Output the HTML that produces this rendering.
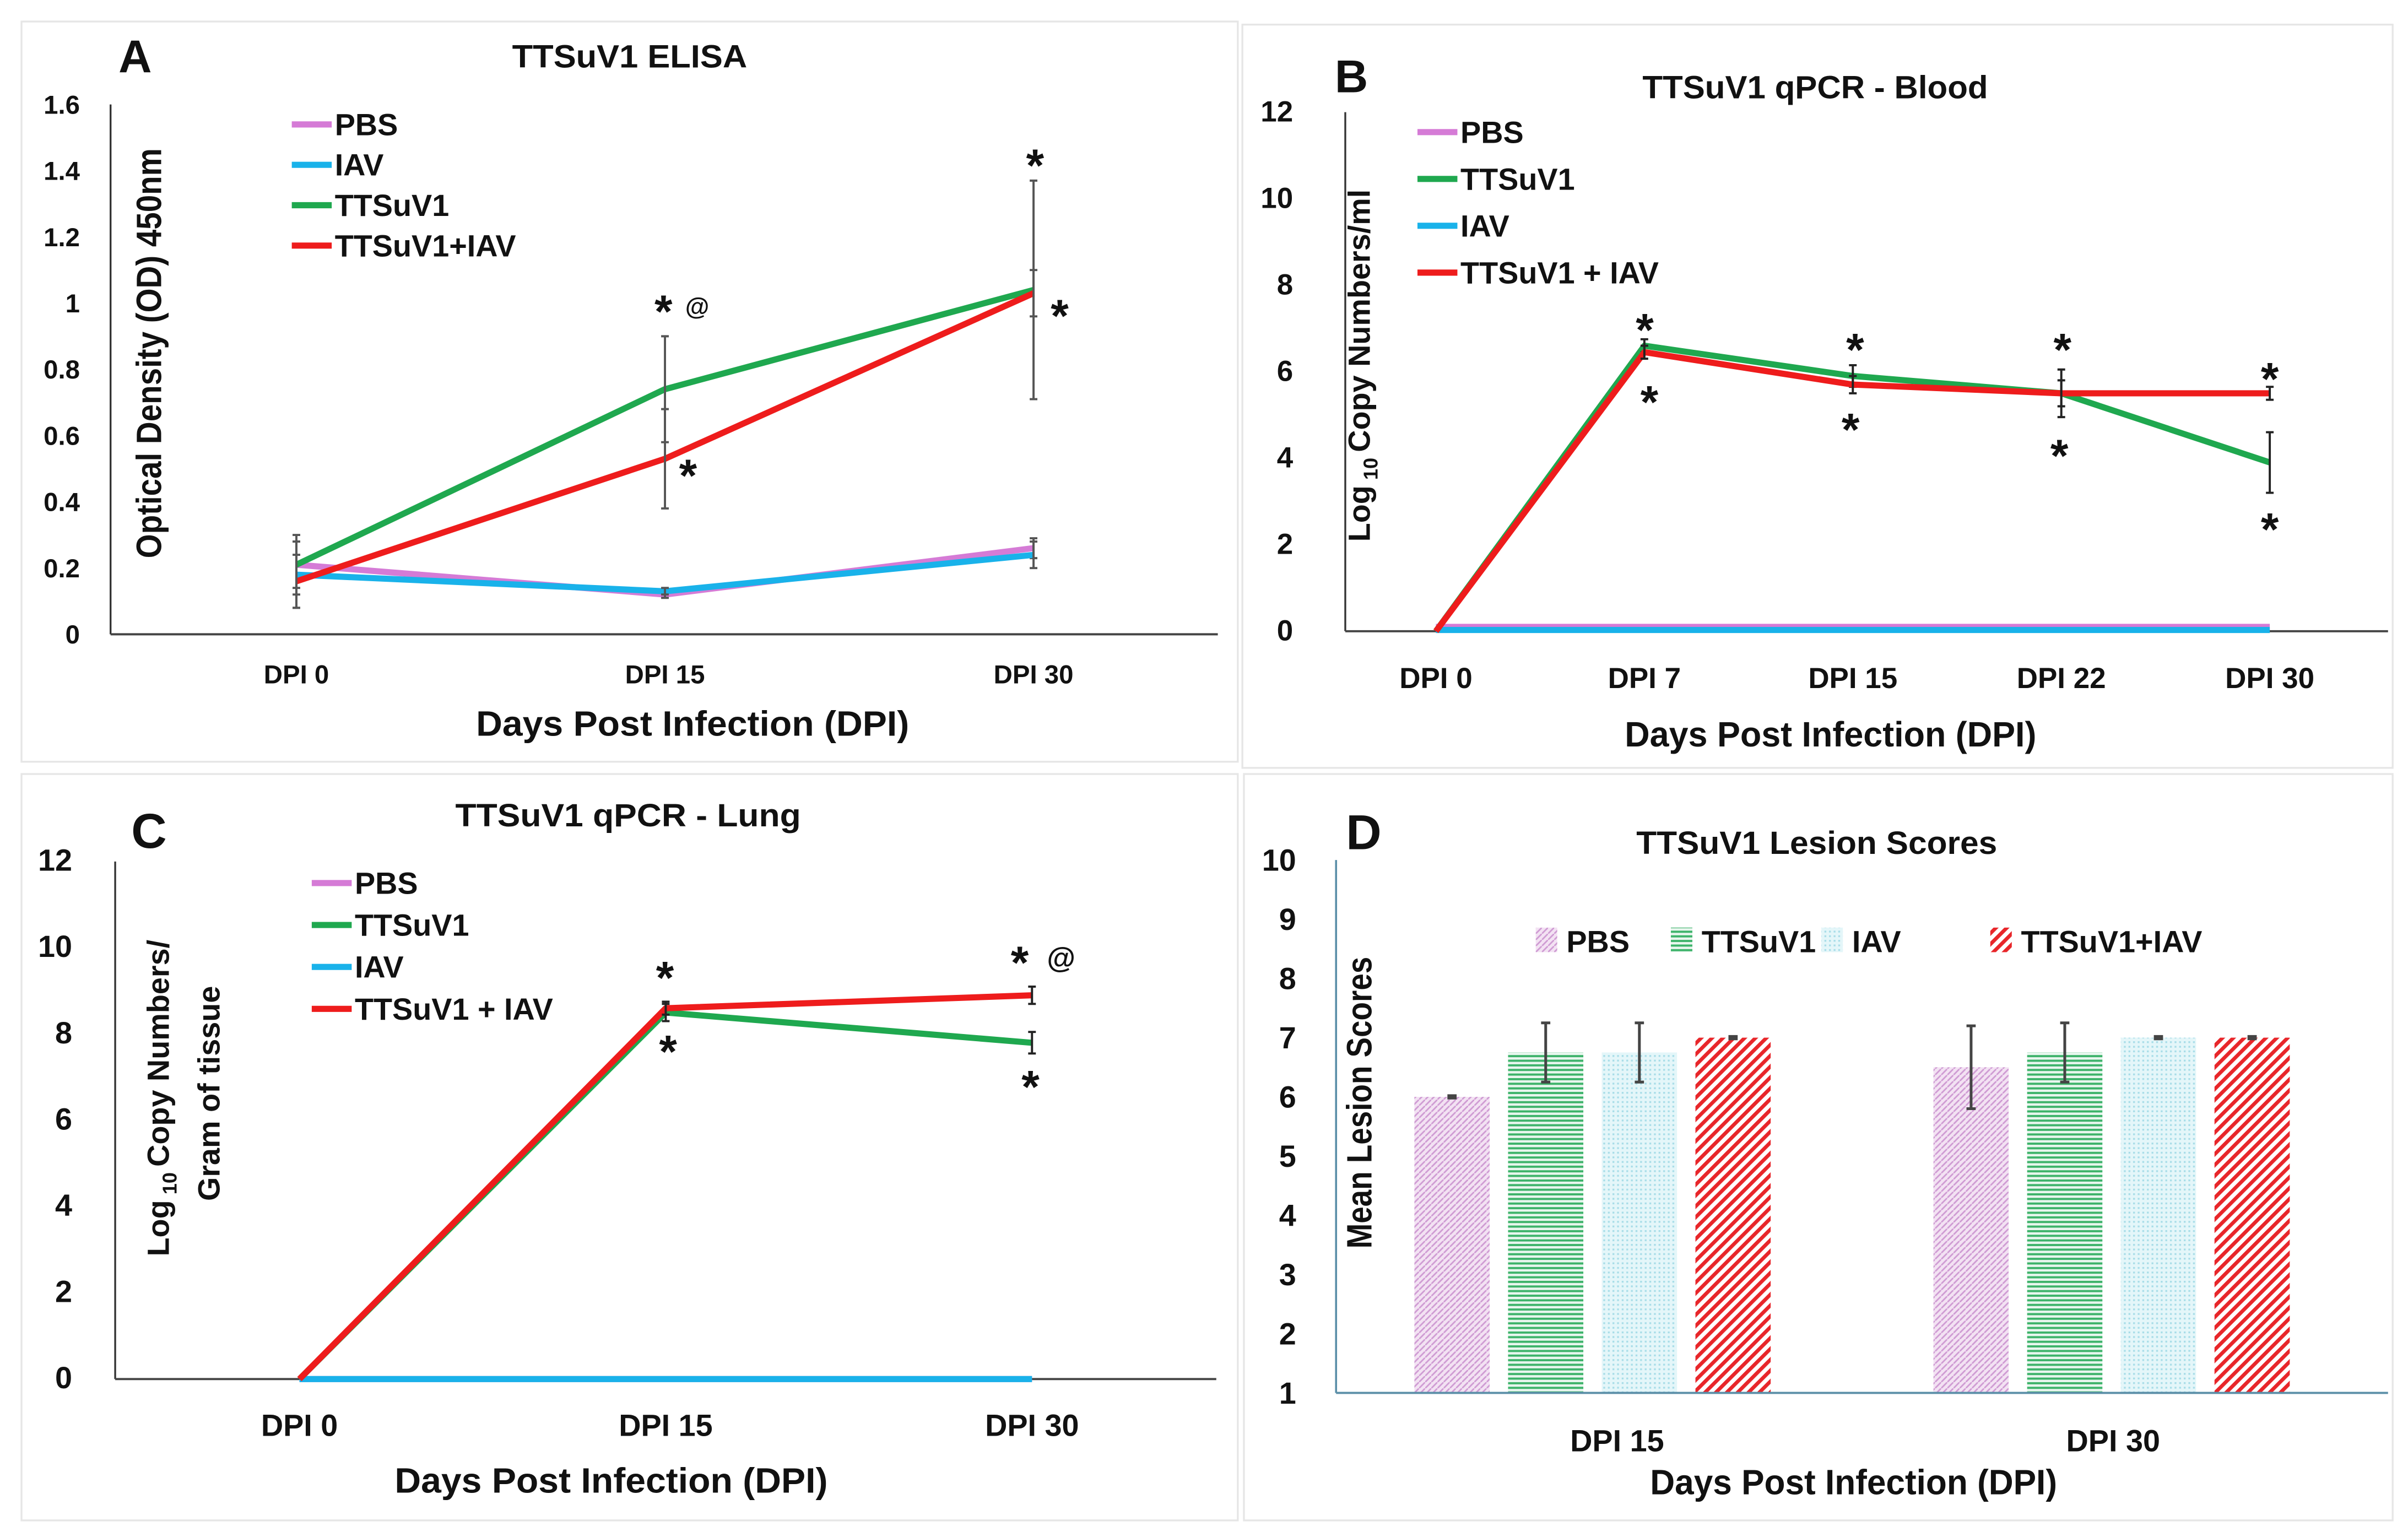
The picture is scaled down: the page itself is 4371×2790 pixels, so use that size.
<!DOCTYPE html>
<html><head><meta charset="utf-8"><style>
html,body{margin:0;padding:0;background:#fff}
svg{display:block}
text{font-family:"Liberation Sans Narrow","Liberation Sans",sans-serif;font-weight:bold;fill:#111}
</style></head><body>
<svg id="fig" xmlns="http://www.w3.org/2000/svg" width="4371" height="2790" viewBox="0 0 1568 1000.8">
<defs>
<pattern id="pPBS" width="4" height="4" patternUnits="userSpaceOnUse"><rect width="4" height="4" fill="#f3e2f3"/><path d="M0 4L4 0" stroke="#cf9bd3" stroke-width="1"/></pattern>
<pattern id="pTT" width="4" height="3" patternUnits="userSpaceOnUse"><rect width="4" height="3" fill="#e8f6ee"/><rect y="0" width="4" height="1.4" fill="#3db36a"/></pattern>
<pattern id="pIAV" width="3" height="3" patternUnits="userSpaceOnUse"><rect width="3" height="3" fill="#e4f6f9"/><rect width="1.2" height="1.2" fill="#a8dde8"/></pattern>
<pattern id="pRED" width="5" height="5" patternUnits="userSpaceOnUse" patternTransform="rotate(45)"><rect width="5" height="5" fill="#fff"/><rect width="2.4" height="5" fill="#e8262a"/></pattern>
</defs>
<g id="root"></g>
</svg>
<script>
// ===== Panel A data =====
const catsA = ["DPI 0","DPI 15","DPI 30"];
const ticksA = [0,0.2,0.4,0.6,0.8,1,1.2,1.4,1.6];
const tickLabelsA = ["0","0.2","0.4","0.6","0.8","1","1.2","1.4","1.6"];
const aPBS = [0.21,0.12,0.26];
const aIAV = [0.18,0.13,0.24];
const aTT = [0.21,0.74,1.04];
const aTTIAV = [0.16,0.53,1.03];
const aErrPBS = [0.09,0.01,0.03];
const aErrIAV = [0.1,0.01,0.04];
const aErrTT = [0.07,0.16,0.33];
const aErrTTIAV = [0.08,0.15,0.07];
// ===== Panel B data =====
const catsB = ["DPI 0","DPI 7","DPI 15","DPI 22","DPI 30"];
const ticksB = [0,2,4,6,8,10,12];
const bPBS = [0.1,0.1,0.1,0.1,0.1];
const bTT = [0,6.6,5.9,5.5,3.9];
const bIAV = [0.03,0.03,0.03,0.03,0.03];
const bTTIAV = [0,6.45,5.7,5.5,5.5];
const bErrTT = [0,0.15,0.25,0.55,0.7];
const bErrTTIAV = [0,0.15,0.2,0.3,0.15];
// ===== Panel C data =====
const catsC = ["DPI 0","DPI 15","DPI 30"];
const ticksC = [0,2,4,6,8,10,12];
const cPBS = [0,0,0];
const cTT = [0,8.5,7.8];
const cIAV = [0,0,0];
const cTTIAV = [0,8.6,8.9];
const cErrTT = [0,0.2,0.25];
const cErrTTIAV = [0,0.15,0.2];
// ===== Panel D data =====
const catsD = ["DPI 15","DPI 30"];
const ticksD = [1,2,3,4,5,6,7,8,9,10];
const seriesD = ["PBS","TTSuV1","IAV","TTSuV1+IAV"];
const dPBS = [6,6.5];
const dTT = [6.75,6.75];
const dIAV = [6.75,7];
const dTTIAV = [7,7];
const dErrPBS = [0.02,0.7];
const dErrTT = [0.5,0.5];
const dErrIAV = [0.5,0.02];
const dErrTTIAV = [0.02,0.02];

const NS="http://www.w3.org/2000/svg";
const root=document.getElementById('root');
function mk(tag,attrs,parent,txt){const e=document.createElementNS(NS,tag);for(const k in attrs)e.setAttribute(k,attrs[k]);if(txt!==undefined)e.textContent=txt;(parent||root).appendChild(e);return e;}
const C={pbs:"#d57bd6",iav:"#19b2ea",tt:"#1fa84f",red:"#ee1c1c"};

function frame(x,y,w,h,name){const r=mk('rect',{x:x,y:y,width:w,height:h,fill:'#fff',stroke:'#e6e6e6','stroke-width':1.2});}
function txt(x,y,s,size,name,anchor,extra){const t=mk('text',Object.assign({x:x,y:y,'font-size':size,'text-anchor':anchor||'middle'},extra||{}),root,s);return t;}
const fit=len=>({textLength:len,lengthAdjust:'spacingAndGlyphs'});

function linePanel(p){
  const g=mk('g',{});
  const ys=v=>p.y0-(v-p.ymin)/(p.ymax-p.ymin)*(p.y0-p.y1);
  const xs=i=>p.cx[0]+i*(p.cx[1]-p.cx[0]);
  const ya=mk('line',{x1:p.ax,y1:p.y1,x2:p.ax,y2:p.y0,stroke:'#333','stroke-width':1.2},g);
  const xa=mk('line',{x1:p.ax,y1:p.y0,x2:p.axEnd,y2:p.y0,stroke:'#444','stroke-width':1.4},g);
  p.ticks.forEach((t,i)=>{const e=mk('text',{x:p.tickX,y:ys(t)+6,'font-size':p.tickSize||17,'text-anchor':'end'},g,p.tickLabels?p.tickLabels[i]:String(t));});
  p.cats.forEach((c,i)=>{const e=mk('text',{x:xs(i),y:p.catY,'font-size':p.catSize||17,'text-anchor':'middle'},g,c);});
  p.series.forEach(s=>{
    const pts=s.vals.map((v,i)=>xs(i).toFixed(1)+','+ys(v).toFixed(1)).join(' ');
    const l=mk('polyline',{points:pts,fill:'none',stroke:s.color,'stroke-width':p.lw||4,'stroke-linejoin':'round'},g);
    
    if(s.err){s.err.forEach((e,i)=>{if(!e)return;const x=xs(i),a=ys(s.vals[i]+e),b=ys(s.vals[i]-e);
      const eb=mk('path',{d:`M${x} ${a}V${b}M${x-2.5} ${a}H${x+2.5}M${x-2.5} ${b}H${x+2.5}`,stroke:p.errColor||'#555','stroke-width':1.4,fill:'none'},g);
      });}
  });
  p.legend.forEach((L,i)=>{const y=p.legY+i*p.legDy;
    const ln=mk('line',{x1:p.legX,y1:y,x2:p.legX+26,y2:y,stroke:L.color,'stroke-width':4},g);
    const t=mk('text',{x:p.legX+28,y:y+7,'font-size':20,'text-anchor':'start'},g,L.label);});
  (p.marks||[]).forEach(m=>{const t=mk('text',{x:m[0],y:m[1],'font-size':m[3]||30,'text-anchor':'middle'},g,m[2]);});
}

frame(14,14,792,482,'panel-a-frame');
frame(809,16,749,484,'panel-b-frame');
frame(14,504,792,486,'panel-c-frame');
frame(810,504,748,486,'panel-d-frame');

// Panel A
txt(88,47,'A',30,'panel-a-letter');
txt(410,44,'TTSuV1 ELISA',21,'panel-a-title','middle',fit(153));
txt(451,479,'Days Post Infection (DPI)',23,'panel-a-x-axis-title','middle',fit(282));
txt(0,0,'Optical Density (OD) 450nm',23,'panel-a-y-axis-title','middle',Object.assign({transform:'translate(105,230) rotate(-90)'},fit(267)));
linePanel({id:'panel-a',ax:72,axEnd:793,y0:413,y1:68,ymin:0,ymax:1.6,cx:[193,433],tickX:52,catY:445,cats:catsA,ticks:ticksA,tickLabels:tickLabelsA,lw:4,
 series:[{key:'pbs',vals:aPBS,color:C.pbs,err:aErrPBS},{key:'iav',vals:aIAV,color:C.iav,err:aErrIAV},{key:'tt',vals:aTT,color:C.tt,err:aErrTT},{key:'tt-iav',vals:aTTIAV,color:C.red,err:aErrTTIAV}],
 legend:[{key:'pbs',label:'PBS',color:C.pbs},{key:'iav',label:'IAV',color:C.iav},{key:'tt',label:'TTSuV1',color:C.tt},{key:'tt-iav',label:'TTSuV1+IAV',color:C.red}],
 legX:190,legY:81,legDy:26.3,
 marks:[[432,213,'*'],[454,205,'@',16],[448,320,'*'],[674,118,'*'],[690,216,'*']]});

// Panel B
txt(880,60,'B',30,'panel-b-letter');
txt(1182,64,'TTSuV1 qPCR - Blood',21,'panel-b-title','middle',fit(225));
txt(1192,486,'Days Post Infection (DPI)',23,'panel-b-x-axis-title','middle',fit(268));
(function(){const t=txt(0,0,'Log',20,'panel-b-y-axis-title','middle',{transform:'translate(892,238) rotate(-90)'});
 mk('tspan',{'font-size':13,dy:5},t,' 10 ');mk('tspan',{dy:-5},t,'Copy Numbers/ml');})();
linePanel({id:'panel-b',ax:876,axEnd:1555,y0:411,y1:73,ymin:0,ymax:12,cx:[935,1070.75],tickX:842,catY:448,cats:catsB,ticks:ticksB,lw:4,tickSize:19,catSize:19,errColor:'#222',
 series:[{key:'pbs',vals:bPBS,color:C.pbs},{key:'iav',vals:bIAV,color:C.iav},{key:'tt',vals:bTT,color:C.tt,err:bErrTT},{key:'tt-iav',vals:bTTIAV,color:C.red,err:bErrTTIAV}],
 legend:[{key:'pbs',label:'PBS',color:C.pbs},{key:'tt',label:'TTSuV1',color:C.tt},{key:'iav',label:'IAV',color:C.iav},{key:'tt-iav',label:'TTSuV1 + IAV',color:C.red}],
 legX:923,legY:86,legDy:30.5,
 marks:[[1071,225,'*'],[1074,272,'*'],[1208,238,'*'],[1205,290,'*'],[1343,238,'*'],[1341,307,'*'],[1478,257,'*'],[1478,355,'*']]});

// Panel C
txt(97,552,'C',32,'panel-c-letter');
txt(409,538,'TTSuV1 qPCR - Lung',21,'panel-c-title','middle',fit(225));
txt(398,972,'Days Post Infection (DPI)',23,'panel-c-x-axis-title','middle',fit(282));
(function(){const t=txt(0,0,'Log',20,'panel-c-y-axis-title-line1','middle',{transform:'translate(110,715) rotate(-90)'});
 mk('tspan',{'font-size':13,dy:5},t,' 10 ');mk('tspan',{dy:-5},t,'Copy Numbers/');
 txt(0,0,'Gram of tissue',20,'panel-c-y-axis-title-line2','middle',{transform:'translate(143,712) rotate(-90)'});})();
linePanel({id:'panel-c',ax:75,axEnd:792,y0:898,y1:561,ymin:0,ymax:12,cx:[195,433.5],tickX:47,catY:935,cats:catsC,ticks:ticksC,lw:4,tickSize:20,catSize:20,errColor:'#222',
 series:[{key:'pbs',vals:cPBS,color:C.pbs},{key:'tt',vals:cTT,color:C.tt,err:cErrTT},{key:'iav',vals:cIAV,color:C.iav},{key:'tt-iav',vals:cTTIAV,color:C.red,err:cErrTTIAV}],
 legend:[{key:'pbs',label:'PBS',color:C.pbs},{key:'tt',label:'TTSuV1',color:C.tt},{key:'iav',label:'IAV',color:C.iav},{key:'tt-iav',label:'TTSuV1 + IAV',color:C.red}],
 legX:203,legY:575,legDy:27.3,
 marks:[[433,647,'*'],[435,695,'*'],[664,637,'*'],[691,630,'@',19],[671,718,'*']]});

// Panel D
txt(888,553,'D',32,'panel-d-letter');
txt(1183,556,'TTSuV1 Lesion Scores',21,'panel-d-title','middle',fit(235));
txt(1207,973,'Days Post Infection (DPI)',23,'panel-d-x-axis-title','middle',fit(265));
txt(0,0,'Mean Lesion Scores',23,'panel-d-y-axis-title','middle',Object.assign({transform:'translate(893,718) rotate(-90)'},fit(190)));
(function(){
 const ax=870,axEnd=1555,y0=907,y1=560,ymin=1,ymax=10;
 const ys=v=>y0-(v-ymin)/(ymax-ymin)*(y0-y1);
 const groupX=[1037,1375], labelX=[1053,1376], bw=49, step=61;
 const g=mk('g',{});
 const ya=mk('line',{x1:ax,y1:y1,x2:ax,y2:y0,stroke:'#5b8fa8','stroke-width':1.3},g);
 ticksD.forEach(t=>{const e=mk('text',{x:844,y:ys(t)+7,'font-size':20,'text-anchor':'end'},g,String(t));});
 const vals=[dPBS,dTT,dIAV,dTTIAV],errs=[dErrPBS,dErrTT,dErrIAV,dErrTTIAV],fills=['url(#pPBS)','url(#pTT)','url(#pIAV)','url(#pRED)'],keys=['pbs','tt','iav','tt-iav'];
 catsD.forEach((c,gi)=>{
  vals.forEach((arr,si)=>{const cx=groupX[gi]+(si-1.5)*step;const top=ys(arr[gi]);
   const r=mk('rect',{x:cx-bw/2,y:top,width:bw,height:y0-top,fill:fills[si]},g);
   const e=errs[si][gi],a=ys(arr[gi]+e),b=ys(arr[gi]-e);
   const eb=mk('path',{d:`M${cx} ${a}V${b}M${cx-3} ${a}H${cx+3}M${cx-3} ${b}H${cx+3}`,stroke:'#444','stroke-width':1.8,fill:'none'},g);});
  const t=mk('text',{x:labelX[gi],y:945,'font-size':20,'text-anchor':'middle'},g,c);
 });
 const xa=mk('line',{x1:ax,y1:y0,x2:axEnd,y2:y0,stroke:'#5b8fa8','stroke-width':1.4},g);
 const legX=[1000,1088,1186,1296];
 seriesD.forEach((s,i)=>{const sw=mk('rect',{x:legX[i],y:604,width:14,height:16,fill:fills[i]},g);
  const t=mk('text',{x:legX[i]+20,y:620,'font-size':20,'text-anchor':'start'},g,s);});
})();
</script>
</body></html>
